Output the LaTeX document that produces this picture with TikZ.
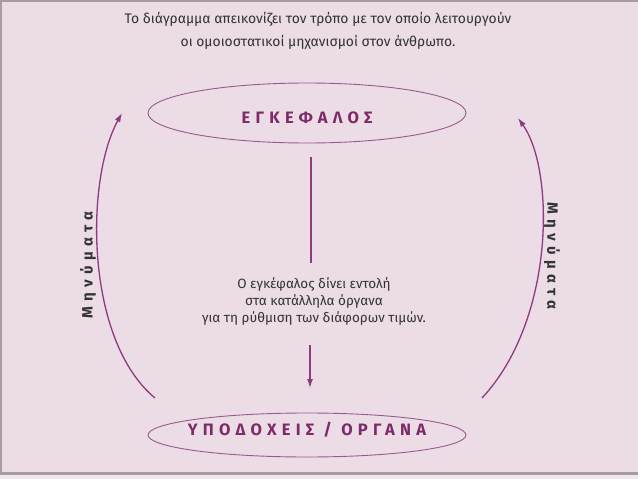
\documentclass[tikz,border=0pt]{standalone}
\usepackage{fontspec}
\setmainfont{Fira Sans}
\newfontfamily\spacedfont[LetterSpace=32, UprightFont={Fira Sans Bold}]{Fira Sans}
\newfontfamily\msgfont[LetterSpace=35, UprightFont={Fira Sans Bold}]{Fira Sans}
\usetikzlibrary{shapes.geometric,arrows.meta}
\definecolor{bg}{HTML}{EBDCE6}
\definecolor{frame}{HTML}{A99BA4}
\definecolor{purp}{HTML}{8E3A7E}
\definecolor{oval}{HTML}{9A5A8C}
\definecolor{ttl}{HTML}{7E2A68}
\definecolor{txt}{HTML}{333333}
\tikzset{
  organ/.style={ellipse, draw=oval, line width=0.9pt, inner sep=0pt,
    minimum width=318pt, text=ttl, font=\spacedfont\fontsize{16.5}{17}\selectfont},
  flow/.style={draw=purp, line width=1.3pt},
  flowarrow/.style={flow, -{Latex[length=9pt,width=6pt]}},
  msg/.style={text=txt, font=\msgfont\fontsize{15}{16}\selectfont},
  plain/.style={text=txt, align=center}
}
\begin{document}
\begin{tikzpicture}[x=1pt,y=-1pt]
\fill[bg] (0,0) rectangle (638,479);
\useasboundingbox (0,0) rectangle (638,479);
\fill[frame] (0,0) rectangle (638,2);
\fill[frame] (0,0) rectangle (2,474);
\fill[frame] (0,472) rectangle (638,474.5);
\fill[bg!70!white] (0,474.5) rectangle (638,479);

\node[plain, font=\fontsize{13.9}{23}\selectfont] (title) at (318,31)
  {Το διάγραμμα απεικονίζει τον τρόπο με τον οποίο λειτουργούν\\
   οι ομοιοστατικοί μηχανισμοί στον άνθρωπο.};

\node[organ, minimum height=60pt] (brain) at (307,113)
  {\makebox[0pt]{\smash{\raisebox{-10.5pt}{ΕΓΚΕΦΑΛΟΣ}}}};
\node[organ, minimum height=44pt] (organs) at (307,435)
  {\makebox[0pt]{\smash{\raisebox{0pt}{ΥΠΟΔΟΧΕΙΣ / ΟΡΓΑΝΑ}}}};

\node[plain, font=\fontsize{13.5}{17}\selectfont] (cmd) at (314,302)
  {Ο εγκέφαλος δίνει εντολή\\ στα κατάλληλα όργανα\\ για τη ρύθμιση των διάφορων τιμών.};

\coordinate (c1) at (311,157);
\coordinate (c2) at (311,263);
\coordinate (c3) at (310,345);
\coordinate (c4) at (310,388);
\draw[flow] (c1) -- (c2);
\draw[flowarrow] (c3) -- (c4);

\coordinate (l1) at (155,398);
\coordinate (l2) at (122,113);
\coordinate (r1) at (482,398);
\coordinate (r2) at (518,118);
\draw[flowarrow] (l1) .. controls (85,340) and (85,180) .. (l2);
\draw[flowarrow] (r1) .. controls (555,320) and (555,170) .. (r2);

\node[msg, rotate=90] (mleft) at (88,265) {Μηνύματα};
\node[msg, rotate=-90] (mright) at (552,256) {Μηνύματα};
\end{tikzpicture}
\end{document}
